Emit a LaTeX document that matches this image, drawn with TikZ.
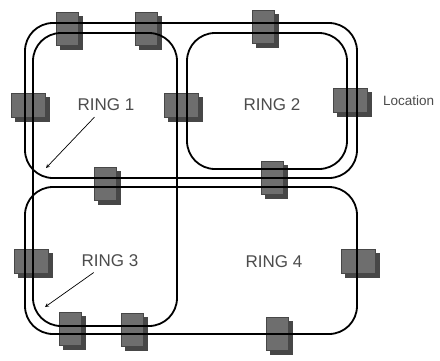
\documentclass[tikz,border=0pt]{standalone}
\usepackage{fontspec}
\setmainfont{Liberation Sans}
\usetikzlibrary{arrows, shadows}
\definecolor{locfront}{HTML}{6E6E6E}
\definecolor{locback}{HTML}{474747}
\tikzstyle{ring} = [draw=black, line width=1.8pt, rounded corners=28pt]
\tikzstyle{locv} = [rectangle, minimum width=22pt, minimum height=33pt, inner sep=0pt, fill=locfront, draw=locback, line width=0.6pt, copy shadow={shadow xshift=4pt, shadow yshift=-4pt, fill=locback, draw=locback}]
\tikzstyle{loch} = [rectangle, minimum width=34pt, minimum height=24pt, inner sep=0pt, fill=locfront, draw=locback, line width=0.6pt, copy shadow={shadow xshift=4pt, shadow yshift=-4pt, fill=locback, draw=locback}]
\tikzstyle{ringtext} = [text=black!70, inner sep=3pt, font=\fontsize{17}{17}\selectfont]
\tikzstyle{pointer} = [line width=0.7pt, ->, >=stealth, shorten <=4pt]

\begin{document}
\begin{tikzpicture}[x=1pt, y=-1pt]
        \useasboundingbox [fill=white] (0,0) rectangle (440,360);
        % Locations, top half
        \node (loc1) [locv] at (67,29) {};
        \node (loc2) [locv] at (146,29) {};
        \node (loc3) [locv] at (263,27) {};
        \node (loc4) [loch] at (28,105) {};
        \node (loc5) [loch] at (181,105) {};
        \node (loc6) [loch] at (350,100) {};
        \node (loc7) [locv] at (105,184) {};
        \node (loc8) [locv] at (272,178) {};
        
        % Locations, bottom half
        \node (loc9) [loch] at (31,261) {};
        \node (loc10) [loch] at (358,261) {};
        \node (loc11) [locv] at (70,329) {};
        \node (loc12) [locv] at (132,330) {};
        \node (loc13) [locv] at (277,334) {};
        
        % Rings
        \draw [ring] (25,23) rectangle (357,178);
        \draw [ring] (187,33) rectangle (347,169);
        \draw [ring] (33,33) rectangle (177,326);
        \draw [ring] (25,187) rectangle (357,334);
        
        % Labels
        \node (ring1) [ringtext] at (106,105) {RING 1};
        \node (ring2) [ringtext] at (272,105) {RING 2};
        \node (ring3) [ringtext] at (110,261) {RING 3};
        \node (ring4) [ringtext] at (274,262) {RING 4};
        \node (loctext) [text=black!70, anchor=west, inner sep=0pt, font=\fontsize{13.5}{13.5}\selectfont] at (383,101) {Location};
        
        % Arrows
        \coordinate (tip1) at (46,168);
        \coordinate (tip3) at (45,307);
        \draw [pointer] (ring1) -- (tip1);
        \draw [pointer] (ring3) -- (tip3);
    \end{tikzpicture}
\end{document}
